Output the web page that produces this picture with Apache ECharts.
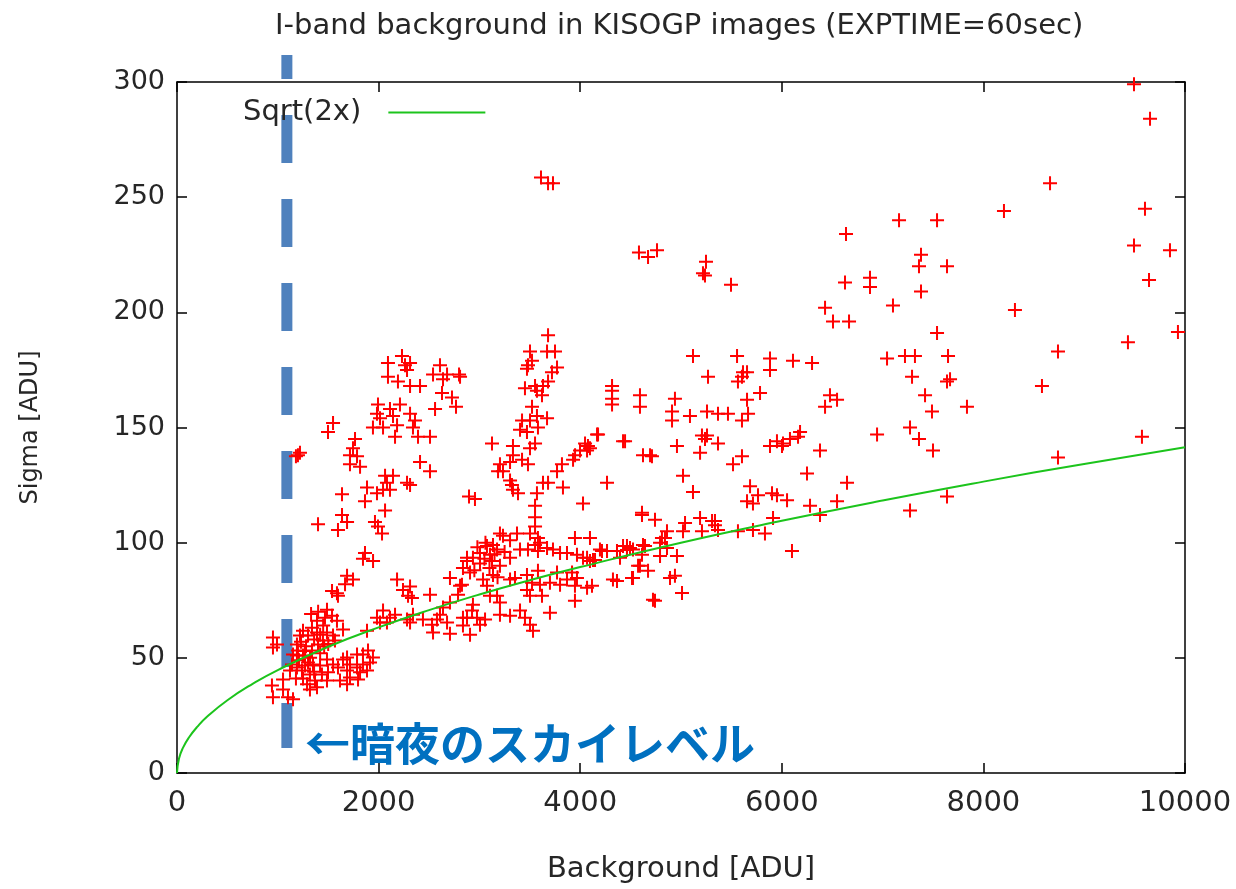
<!DOCTYPE html>
<html><head><meta charset="utf-8">
<script src="https://cdn.jsdelivr.net/npm/echarts@6/dist/echarts.min.js"></script>
<style>html,body{margin:0;padding:0;background:#fff}#c{width:1236px;height:889px}</style>
</head><body><div id="c"></div>
<script>
// ---- data (Background [ADU], Sigma [ADU]) ----
var titleText = 'I-band background in KISOGP images (EXPTIME=60sec)';
var xTicks = [0, 2000, 4000, 6000, 8000, 10000];
var yTicks = [0, 50, 100, 150, 200, 250, 300];
var darkSkyLevel = 1090;               // blue dashed marker
var markerSpan = [311.7, 10.8];        // sigma range covered by the marker
var annotation = '←暗夜のスカイレベル';

var sqrtCurve = [[0,0],[20,6.3],[60,11],[120,15.5],[200,20],[300,24.5],[500,31.6],[750,38.7],[1000,44.7],[1500,54.8],[2000,63.2],[2500,70.7],[3000,77.5],[3500,83.7],[4000,89.4],[5000,100],[6000,109.5],[7000,118.3],[8000,126.5],[9000,134.2],[10000,141.4]];

var upperBranch = [[2232,181],[2093,178],[2262,177],[2312,178],[2282,175],[2093,172],[2192,170],[2312,168],[2411,168],[2609,177],[2540,173],[2679,173],[2639,171],[2798,173],[2629,165],[2728,163],[2768,159],[2560,158],[1994,160],[2113,158],[2212,160],[1984,156],[2014,154],[2143,155],[2312,156],[2361,153],[1944,150],[2044,150],[2183,151],[2341,150],[2163,146],[2391,146],[2510,146],[1548,152],[1498,148],[1200,138],[1220,139],[1180,137.5],[1766,145],[1746,141],[1716,138],[1786,137.5],[1716,134],[1816,133],[2411,135],[2510,131],[2064,129],[2143,129],[2083,126],[2044,123],[2113,123],[1885,124],[1984,121.5],[2282,126],[2312,125],[1637,121],[1865,118],[2064,114],[1637,112],[2897,120]];

var darkCluster = [[1399,108],[1687,109],[1597,105.5],[1964,109],[1994,107],[2034,104],[1865,95.5],[1845,93],[1945,92],[1687,85.6],[1746,84],[1667,82],[1538,79],[1587,78],[1597,77],[2183,84],[2242,79.5],[2312,81],[2292,77],[2331,76],[2510,77.4],[2708,84.7],[2808,81.3],[2837,89],[2877,93.4],[2788,77.4],[2708,74],[2639,71.8],[2609,68.7],[2579,66.6],[2679,65.3],[2530,64.4],[2540,61],[2708,60.5],[2837,67.4],[2837,64],[2440,66.6],[2341,68.7],[2282,66.6],[2312,65.3],[2163,68.7],[2113,67.4],[2044,70.5],[2014,65.3],[1984,67.4],[2083,65.3],[1885,61.8],[1488,70.9],[1468,67.4],[1538,68.3],[1587,66.1],[1647,62.3],[1389,66.1],[1339,63.1],[1250,61.8],[1220,59.7],[1300,59.7],[1389,61],[1488,61],[1548,59.7],[1448,57.5],[1567,57.5],[1399,55.8],[1190,55.8],[1200,53.2],[1190,51],[1250,51],[1339,53.2],[952,58.8],[992,55.8],[952,54.5],[1151,51.4],[1141,47.1],[1121,44.5],[1190,45.8],[1240,44.5],[1270,46.7],[1349,47.1],[1419,46.7],[1319,42.8],[1438,42.8],[1498,43.7],[1369,40.2],[1290,38.5],[1319,36.3],[1389,37.2],[1488,40.2],[1052,40.6],[1052,36.3],[942,38],[952,32.9],[1101,32.9],[1151,32],[1687,50.1],[1716,47.1],[1786,51.4],[1845,51.4],[1895,53.2],[1944,50.1],[1915,48],[1845,47.1],[1786,45.8],[1687,44.5],[1716,41.5],[1816,43.7],[1885,44.5],[1796,40.6],[1617,40.2],[1687,38.5],[1647,49.3],[1597,45.8],[1548,47.1],[1488,49.3],[1230,57],[1280,55],[1320,50],[1360,58],[1420,52],[1460,55],[1300,48],[1250,41],[1180,41],[1420,60],[1500,56],[1360,44],[1270,53],[1210,49],[1450,64],[1400,70],[1330,69]];

var midBranch = [[3681,190],[3671,183],[3750,183],[3502,183],[3522,179],[3482,177],[3472,175.5],[3770,176],[3720,174],[3681,170],[3631,168],[3552,168],[3452,167],[3571,166],[3621,164],[3522,159],[3423,153],[3502,153],[3571,155],[3671,154],[3403,149],[3472,148],[3581,150],[3552,143],[3502,141],[3333,142],[3125,143],[3333,138],[3304,135],[3423,136],[3482,134],[3204,134],[3234,131],[3185,131],[3304,127],[3323,125],[3333,123],[3383,121.5],[3631,126],[3681,126],[3571,121.5],[3552,116],[2956,119],[2808,172],[3829,124],[3770,131],[3819,134],[3929,136],[3949,138],[3998,140],[4048,143],[4077,142],[4068,140],[4167,147],[4266,126],[4028,117],[4316,168],[4316,166],[4316,162.5],[4316,160],[4593,164],[4593,159],[4425,144],[4623,138],[4693,138],[4613,113]];

var midCluster = [[3552,111],[3552,107],[3204,104],[3234,103],[3373,104],[3502,104],[3581,102],[3601,100],[3552,99],[3304,101],[3135,99],[3175,97],[3075,98.6],[3105,94.7],[3006,95.5],[2936,93.4],[2877,92],[3006,91],[3125,92],[3204,90],[3304,93.4],[3403,97],[3482,97],[3581,96.4],[3671,97.7],[3730,97],[3800,95.5],[3869,95.5],[3948,102],[4097,102],[3968,94.7],[4068,93.4],[4127,92.5],[4196,97],[4266,96.4],[4365,96.4],[4464,98.6],[4524,97],[4623,99],[4613,112],[4742,110],[4028,93.4],[3135,86],[3036,84],[3075,81.3],[2907,87],[2827,81.7],[3304,84],[3353,84.7],[3472,86],[3581,87.8],[3522,82.6],[3601,81.7],[3472,79.5],[3502,77],[3621,77],[3700,82.6],[3770,87],[3800,81.7],[3869,84],[3919,87],[3968,84.7],[3948,81.3],[4068,80.4],[3948,74.8],[3700,69.6],[3175,77],[3204,74],[3105,77],[2936,73],[2927,70.5],[2877,67.4],[2976,67.4],[3006,64.4],[3056,66.6],[3204,68.7],[3304,68.3],[3403,70.5],[3452,67.4],[3502,64.4],[3532,61.8],[2907,60],[4325,84],[4524,84.7],[4593,90],[4673,87.8],[4722,75.2],[3050,93],[3150,95],[3100,89],[2980,98],[3250,96],[3060,100],[2950,88],[3180,85]];

var brightSky = [[5119,181],[5556,181],[5883,180],[5883,175],[6111,179],[6300,178],[5268,172],[5615,174],[5655,174],[5605,172],[5565,170],[4940,162.5],[4911,157],[4911,153],[5089,155],[5258,157],[5367,156],[5466,156],[5655,162],[5665,156],[5605,153],[5784,165],[6478,164],[6548,162],[6429,159],[4177,147],[4445,144],[4097,141],[4712,137.5],[4960,142],[5208,146.5],[5258,146.5],[5238,145],[5367,143],[5189,139],[5605,137.5],[5516,134],[5883,142],[5952,144],[6012,143],[6081,145],[6161,146],[6181,148],[6002,142],[6379,140],[6250,130],[5020,129],[5119,122],[5685,124.5],[5764,120.6],[5655,118],[5714,117],[5903,121.5],[5952,120.6],[6052,118.4],[6280,116],[6548,118],[5913,110.7],[5040,108.5],[5189,110.7],[5308,109.4],[5337,109.4],[6647,126],[5020,105],[5208,105],[5337,107.6],[5367,105.5],[4861,105],[4811,102],[4841,102],[4792,100],[4861,97.7],[5565,105],[5714,105.5],[5833,104],[6379,112],[6101,96.4],[4643,98.6],[4613,94.7],[4464,96.8],[4425,98.6],[4494,97.7],[4216,96.4],[4266,96.4],[4147,92.5],[4097,92],[4395,93.4],[4792,94.2],[4960,94.2],[4574,90],[4514,84.7],[4365,83.4],[4891,84.7],[4940,85.6],[5010,78.2],[4742,74.8],[4117,81.3]];

var highSky = [[6429,202],[7103,203],[8313,201],[6508,196],[6667,196],[7540,191],[8740,183],[9434,187],[9930,191.5],[7044,180],[7222,181],[7321,181],[7649,181],[7292,172],[7639,170],[7669,171],[8581,168],[7421,164],[7490,157],[7837,159],[7272,150],[6945,147],[7361,145],[7500,140],[9573,146],[8740,137],[7639,120],[7272,114],[3611,258.5],[3681,256],[3730,256],[8661,256],[4583,226],[4673,224],[4762,227],[5248,222],[5218,217],[5238,216],[5496,212],[6637,234],[7163,240],[7540,240],[8204,244],[9603,245],[9494,229],[9851,227],[9643,214],[7381,225],[7361,220],[7639,220],[6627,213],[6875,215],[6875,211],[7381,209],[9494,299],[9653,284]];

var allPoints = [].concat(upperBranch, darkCluster, midBranch, midCluster, brightSky, highSky);

// ---- chart ----
var FONT = 'DejaVu Sans';
var TXT = '#262626';
var plus = 'path://M6,0H8V6H14V8H8V14H6V8H0V6H6Z';
var chart = echarts.init(document.getElementById('c'), null, {renderer: 'canvas'});
function frameLine() { return {show: true, onZero: false, lineStyle: {color: '#000', width: 1.5}}; }
function tickIn() { return {show: true, inside: true, length: 10, lineStyle: {color: '#000', width: 1.5}}; }
function plain(v) { return String(v); }
chart.setOption({
  animation: false,
  backgroundColor: '#fff',
  title: [
    {text: titleText, left: 270, top: 7, textStyle: {fontFamily: FONT, fontSize: 29, fontWeight: 'normal', color: TXT}},
    {text: annotation, left: 300, top: 716, textStyle: {fontFamily: 'Noto Sans CJK JP', fontSize: 45, fontWeight: 'bold', color: '#0070c0'}}
  ],
  legend: {
    data: ['Sqrt(2x)'], left: 238, top: 93, align: 'right', icon: 'rect',
    itemWidth: 97, itemHeight: 2, selectedMode: false,
    textStyle: {fontFamily: FONT, fontSize: 29, color: TXT, padding: [0, 22, 0, 0]}
  },
  grid: {left: 177, right: 51, top: 82, bottom: 113, containLabel: false},
  xAxis: [
    {type: 'value', min: 0, max: 10000, interval: 2000, name: 'Background [ADU]', nameLocation: 'middle', nameGap: 82,
     nameTextStyle: {fontFamily: FONT, fontSize: 29, color: TXT},
     axisLine: frameLine(), axisTick: tickIn(), splitLine: {show: false},
     axisLabel: {fontFamily: FONT, fontSize: 29, color: TXT, margin: 16, formatter: plain}},
    {type: 'value', position: 'top', min: 0, max: 10000, interval: 2000,
     axisLine: frameLine(), axisTick: tickIn(), splitLine: {show: false}, axisLabel: {show: false}}
  ],
  yAxis: [
    {type: 'value', min: 0, max: 300, interval: 50, name: 'Sigma [ADU]', nameLocation: 'middle', nameGap: 134, nameRotate: 90,
     nameTextStyle: {fontFamily: FONT, fontSize: 24, color: TXT},
     axisLine: frameLine(), axisTick: tickIn(), splitLine: {show: false},
     axisLabel: {fontFamily: FONT, fontSize: 27, color: TXT, margin: 12, formatter: plain}},
    {type: 'value', position: 'right', min: 0, max: 300, interval: 50,
     axisLine: frameLine(), axisTick: tickIn(), splitLine: {show: false}, axisLabel: {show: false}}
  ],
  series: [
    {name: 'dark', type: 'line', data: [[darkSkyLevel, markerSpan[0]], [darkSkyLevel, markerSpan[1]]],
     symbol: 'none', clip: false, z: 1, silent: true,
     lineStyle: {color: '#4f81bd', width: 11, type: [48, 36], dashOffset: 24, cap: 'butt'}},
    {name: 'Background', type: 'scatter', data: allPoints, symbol: plus, symbolSize: 14, z: 3,
     itemStyle: {color: '#ff0000', opacity: 1}},
    {name: 'Sqrt(2x)', type: 'line', data: sqrtCurve, smooth: true, symbol: 'none', z: 4,
     lineStyle: {color: '#1cc41c', width: 2}, itemStyle: {color: '#1cc41c'}}
  ]
});
</script></body></html>
